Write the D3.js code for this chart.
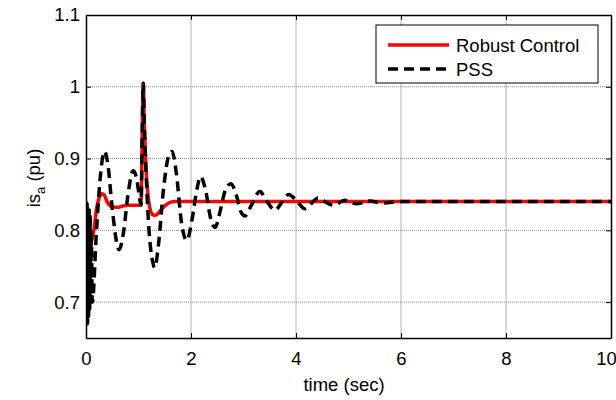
<!DOCTYPE html>
<html>
<head>
  <meta charset="UTF-8">
  <title>is_a response</title>
  <script src="https://d3js.org/d3.v7.min.js"></script>
  <style>
    body { margin: 0; background: #fff; font-family: "Liberation Sans", Arial, sans-serif; }
    svg { display: block; }
  </style>
</head>
<body>
<svg></svg>
<script>
// values
const robustT = [0, 0.01, 0.02, 0.03, 0.04, 0.05, 0.06, 0.07, 0.08, 0.09, 0.1, 0.12, 0.15, 0.2, 0.25, 0.3, 0.35, 0.4, 0.5, 0.6, 0.7, 0.8, 0.9, 1.0, 1.05, 1.07, 1.09, 1.11, 1.14, 1.18, 1.22, 1.27, 1.33, 1.4, 1.5, 1.6, 1.7, 2, 10];
const robustV = [0.84, 0.67, 0.83, 0.68, 0.82, 0.70, 0.81, 0.73, 0.80, 0.76, 0.785, 0.79, 0.80, 0.83, 0.845, 0.851, 0.849, 0.84, 0.833, 0.832, 0.834, 0.835, 0.835, 0.835, 0.837, 0.93, 1.005, 0.95, 0.89, 0.85, 0.83, 0.822, 0.821, 0.826, 0.834, 0.839, 0.840, 0.840, 0.840];

const pssT = [0, 0.01, 0.02, 0.03, 0.04, 0.05, 0.06, 0.07, 0.08, 0.09, 0.1, 0.12, 0.2, 0.28, 0.35, 0.42, 0.5, 0.63, 0.72, 0.8, 0.9, 0.97, 1.02, 1.05, 1.07, 1.09, 1.11, 1.15, 1.2, 1.26, 1.31, 1.38, 1.48, 1.58, 1.64, 1.72, 1.82, 1.92, 2.02, 2.12, 2.18, 2.28, 2.38, 2.46, 2.55, 2.65, 2.76, 2.86, 2.95, 3.03, 3.15, 3.31, 3.45, 3.6, 3.72, 3.86, 4.0, 4.17, 4.3, 4.42, 4.55, 4.71, 4.93, 5.15, 5.4, 5.65, 6, 10];
const pssV = [0.84, 0.665, 0.84, 0.67, 0.83, 0.68, 0.83, 0.69, 0.82, 0.70, 0.80, 0.70, 0.80, 0.88, 0.91, 0.89, 0.83, 0.773, 0.80, 0.85, 0.883, 0.87, 0.845, 0.835, 0.93, 1.005, 0.95, 0.87, 0.80, 0.76, 0.748, 0.78, 0.86, 0.905, 0.91, 0.88, 0.81, 0.786, 0.815, 0.86, 0.875, 0.855, 0.815, 0.804, 0.825, 0.855, 0.865, 0.85, 0.826, 0.82, 0.835, 0.854, 0.84, 0.828, 0.838, 0.85, 0.842, 0.83, 0.838, 0.845, 0.84, 0.835, 0.842, 0.837, 0.841, 0.838, 0.84, 0.84];

const xTicks = [0, 2, 4, 6, 8, 10];
const yTicks = [0.7, 0.8, 0.9, 1, 1.1];
const seriesNames = ["Robust Control", "PSS"];

const width = 616, height = 400;
const fs = 18.5;
const svg = d3.select("svg").attr("width", width).attr("height", height);

const x = d3.scaleLinear().domain([0, 10]).range([86, 611]);
const y = d3.scaleLinear().domain([0.65, 1.1]).range([338, 15]);

svg.append("defs").append("clipPath").attr("id", "plot")
  .append("rect").attr("x", 86).attr("y", 15).attr("width", 525).attr("height", 323);

// grid
svg.append("g").selectAll("line").data(xTicks.slice(1, -1)).join("line")
  .attr("x1", d => x(d)).attr("x2", d => x(d)).attr("y1", 15).attr("y2", 338)
  .attr("stroke", "#b4b4b4").attr("stroke-width", 1);
svg.append("g").selectAll("line").data(yTicks.slice(0, -1)).join("line")
  .attr("x1", 86).attr("x2", 611).attr("y1", d => y(d)).attr("y2", d => y(d))
  .attr("stroke", "#8c8c8c").attr("stroke-width", 1).attr("stroke-dasharray", "1,1");

const line = d3.line().x(d => x(d[0])).y(d => y(d[1])).curve(d3.curveMonotoneX);
const plot = svg.append("g").attr("clip-path", "url(#plot)");
plot.append("path").datum(d3.zip(robustT, robustV)).attr("d", line)
  .attr("fill", "none").attr("stroke", "#ff0000").attr("stroke-width", 3.5);
plot.append("path").datum(d3.zip(pssT, pssV)).attr("d", line)
  .attr("fill", "none").attr("stroke", "#000").attr("stroke-width", 3.5)
  .attr("stroke-dasharray", "10,6");

// axes with inward ticks on all sides
const xAxis = svg.append("g").attr("transform", "translate(0,338)")
  .call(d3.axisBottom(x).tickValues(xTicks).tickSizeInner(-5).tickSizeOuter(0).tickPadding(14).tickFormat(d3.format("d")));
xAxis.selectAll(".tick text").filter(d => d === 10).attr("dx", -5);
svg.append("g").attr("transform", "translate(0,15)")
  .call(d3.axisTop(x).tickValues(xTicks).tickSizeInner(-5).tickSizeOuter(0).tickFormat(""));
svg.append("g").attr("transform", "translate(86,0)")
  .call(d3.axisLeft(y).tickValues(yTicks).tickSizeInner(-5).tickSizeOuter(0).tickPadding(6).tickFormat(d => d3.format("")(d)));
svg.append("g").attr("transform", "translate(611,0)")
  .call(d3.axisRight(y).tickValues(yTicks).tickSizeInner(-5).tickSizeOuter(0).tickFormat(""));

svg.selectAll(".domain").attr("stroke", "#000").attr("stroke-width", 1.5);
svg.selectAll(".tick line").attr("stroke", "#000");
svg.selectAll(".tick text").attr("font-family", "Liberation Sans, Arial, sans-serif")
  .attr("font-size", fs).attr("fill", "#000");

// axis labels
svg.append("text").attr("x", 344).attr("y", 391).attr("text-anchor", "middle")
  .attr("font-size", fs).text("time (sec)");
const yl = svg.append("text").attr("transform", "translate(40,178) rotate(-90)")
  .attr("text-anchor", "middle").attr("font-size", fs);
yl.append("tspan").text("is");
yl.append("tspan").attr("font-size", 13).attr("dy", 5).text("a");
yl.append("tspan").attr("dy", -5).text(" (pu)");

// legend
const lg = svg.append("g");
lg.append("rect").attr("x", 376).attr("y", 25).attr("width", 222).attr("height", 58)
  .attr("fill", "#fff").attr("stroke", "#000").attr("stroke-width", 1);
const legendColors = ["#ff0000", "#000"];
const legendDash = [null, "10,6"];
seriesNames.forEach((name, i) => {
  const yy = 45 + i * 24;
  lg.append("line").attr("x1", 388).attr("x2", 449).attr("y1", yy).attr("y2", yy)
    .attr("stroke", legendColors[i]).attr("stroke-width", 3.5).attr("stroke-dasharray", legendDash[i]);
  lg.append("text").attr("x", 456).attr("y", yy + 7).attr("font-size", fs).text(name);
});
</script>
</body>
</html>
